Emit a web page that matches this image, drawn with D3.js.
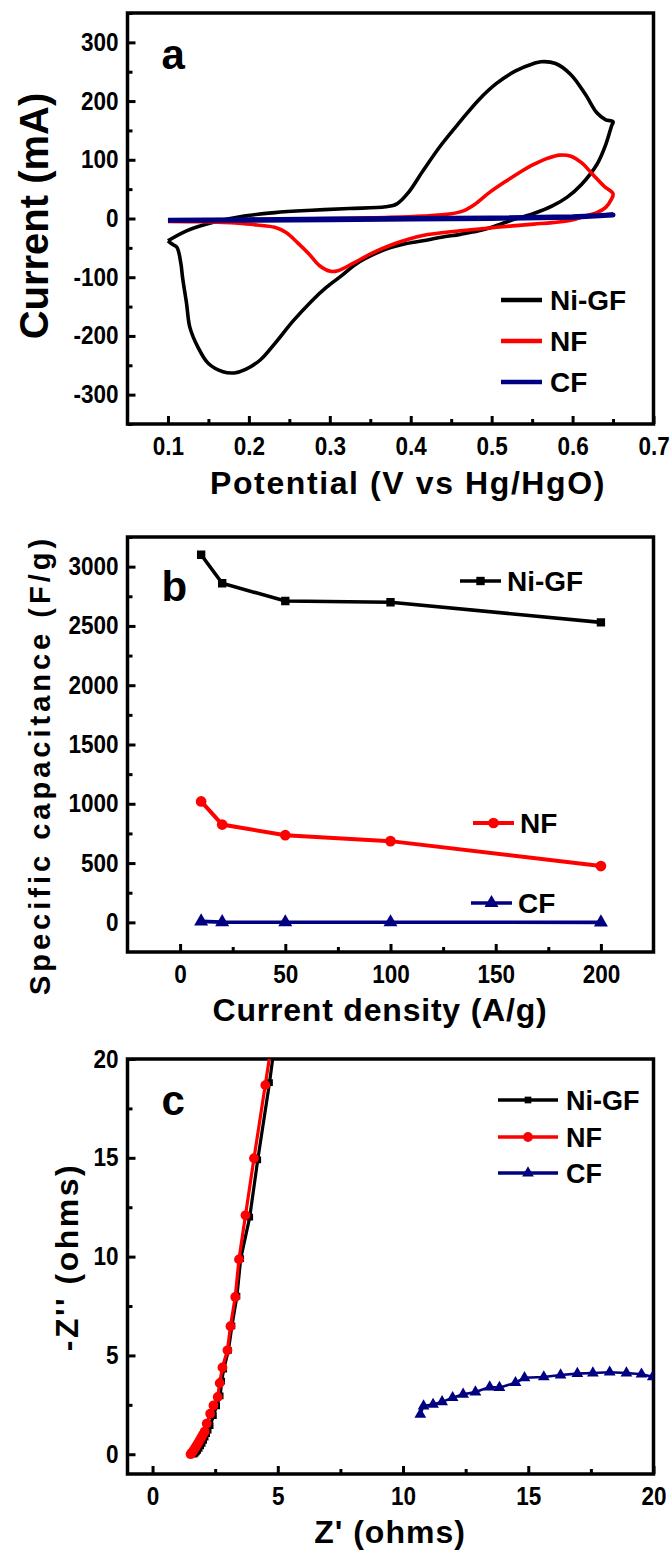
<!DOCTYPE html>
<html>
<head>
<meta charset="utf-8">
<script src="https://cdn.jsdelivr.net/npm/d3@7/dist/d3.min.js"></script>
<style>
  body { margin: 0; background: #fff; }
  text { font-family: "Liberation Sans", Arial, sans-serif; font-weight: bold; }
</style>
</head>
<body>
<svg id="fig" width="672" height="1555"></svg>
<script>
// ---- panel a : cyclic voltammetry, [potential V, current mA]
var cvNiGF = [[0.100,-38],[0.123,-21],[0.155,-7],[0.196,4.5],[0.232,10],[0.278,14],[0.324,17],[0.369,20],
  [0.383,25],[0.397,44],[0.415,81],[0.438,126],[0.461,165],[0.484,202],[0.506,230],[0.529,251],[0.552,264],
  [0.561,267],[0.579,264],[0.598,245],[0.616,211],[0.630,180],[0.641,168],[0.650,165],
  [0.648,157],[0.641,126],[0.630,92],[0.611,58],[0.593,36],[0.575,21.5],[0.552,8.5],[0.529,-1],[0.506,-12],
  [0.484,-21],[0.461,-27],[0.438,-32],[0.415,-38],[0.392,-43.5],[0.374,-50],[0.356,-60],[0.333,-77],
  [0.315,-97],[0.296,-117],[0.278,-140],[0.255,-174],[0.232,-213],[0.214,-241],[0.196,-257],[0.182,-263],
  [0.168,-261],[0.150,-247],[0.137,-219],[0.127,-185],[0.123,-145],[0.118,-100],[0.116,-77],[0.111,-49],
  [0.105,-43.5],[0.100,-38]];
var cvNF = [[0.100,-4],[0.187,-2.3],[0.278,-0.6],[0.369,1.7],[0.415,4],[0.450,8],[0.465,13],[0.479,24],
  [0.497,44],[0.516,62],[0.534,78],[0.552,92],[0.570,103],[0.584,108],[0.598,106],[0.611,95],[0.625,75],
  [0.639,55],[0.650,42],[0.648,33],[0.641,19],[0.630,10],[0.616,4.5],[0.598,-3],[0.575,-7],[0.552,-9.6],
  [0.506,-15],[0.461,-21],[0.415,-29],[0.379,-43.5],[0.351,-60],[0.328,-77],[0.310,-89],[0.301,-90],
  [0.287,-80],[0.274,-60],[0.260,-41],[0.246,-24],[0.232,-15],[0.210,-11],[0.187,-8],[0.141,-5.6],[0.100,-5]];
var cvCF = [[0.1,-3],[0.2,-2],[0.3,-1],[0.4,0],[0.5,1],[0.6,3],[0.65,6],[0.6,2],[0.5,0],[0.4,-1],
  [0.3,-2],[0.2,-3],[0.1,-3]];
var potentialTicks = [0.1,0.2,0.3,0.4,0.5,0.6,0.7];
var currentTicks = [-300,-200,-100,0,100,200,300];

// ---- panel b : rate capability
var currentDensity = [10, 20, 50, 100, 200];
var capNiGF = [3100, 2860, 2710, 2700, 2530];
var capNF = [1020, 825, 735, 685, 475];
var capCF = [8, 2, 1, 1, 0];
var densityTicks = [0,50,100,150,200];
var capTicks = [0,500,1000,1500,2000,2500,3000];

// ---- panel c : Nyquist plot, [Z', -Z'']
var eisNiGF = [[1.66,0.00],[1.70,0.05],[1.75,0.12],[1.80,0.20],[1.86,0.30],[1.92,0.42],[1.98,0.55],
  [2.04,0.70],[2.10,0.86],[2.16,1.04],[2.22,1.22],[2.30,1.45],[2.43,1.95],[2.56,2.45],[2.70,2.95],
  [2.76,3.7],[2.84,4.3],[3.03,5.26],[3.17,6.5],[3.37,8.0],[3.52,9.9],[3.88,12.0],[4.20,14.9],[4.67,18.8],[4.90,21]];
var eisNF = [[1.52,0.00],[1.56,0.06],[1.61,0.14],[1.66,0.24],[1.71,0.34],[1.76,0.45],[1.82,0.57],
  [1.88,0.70],[1.94,0.84],[2.01,0.99],[2.08,1.15],[2.16,1.55],[2.30,2.05],[2.43,2.47],[2.60,2.9],
  [2.68,3.6],[2.79,4.39],[2.99,5.26],[3.11,6.48],[3.30,7.96],[3.45,9.86],[3.71,12.09],[4.05,14.98],
  [4.50,18.68],[4.78,21]];
var eisCF = [[10.69,2.02],[10.82,2.44],[11.20,2.52],[11.56,2.65],[11.98,2.86],[12.40,3.03],[12.89,3.15],
  [13.46,3.40],[13.85,3.37],[14.49,3.62],[14.85,3.87],[15.62,3.91],[16.29,4.01],[16.96,4.08],[17.58,4.11],
  [18.25,4.15],[18.92,4.11],[19.52,4.05],[19.97,3.92]];
var zTicks = [0,5,10,15,20];

var svg = d3.select("#fig");
var L = 127.5, R = 653.5;
var BLUE = "#000080";

function panel(o) {
  var x = d3.scaleLinear().domain(o.xDomain).range([L, R]);
  var y = d3.scaleLinear().domain(o.yDomain).range([o.bottom, o.top]);
  svg.append("clipPath").attr("id", "clip" + o.name)
    .append("rect").attr("x", L).attr("y", o.top).attr("width", R - L).attr("height", o.bottom - o.top);

  [
    d3.axisBottom(x).tickValues(o.xMinor).tickSize(-5).tickFormat(""),
    d3.axisBottom(x).tickValues(o.xTicks).tickSize(-8).tickPadding(13).tickFormat(function(d){ return String(d); })
  ].forEach(function(a) {
    svg.append("g").attr("transform", "translate(0," + o.bottom + ")").call(a).call(style);
  });
  [
    d3.axisLeft(y).tickValues(o.yMinor).tickSize(-5).tickFormat(""),
    d3.axisLeft(y).tickValues(o.yTicks).tickSize(-8).tickPadding(10).tickFormat(function(d){ return String(d); })
  ].forEach(function(a) {
    svg.append("g").attr("transform", "translate(" + L + ",0)").call(a).call(style);
  });

  svg.append("rect").attr("x", L).attr("y", o.top).attr("width", R - L).attr("height", o.bottom - o.top)
    .attr("fill", "none").attr("stroke", "#000").attr("stroke-width", 3.5);

  svg.append("text").attr("x", L + 34).attr("y", o.top + o.letterDy)
    .style("font-size", "42px").text(o.letter);

  return { x: x, y: y, g: svg.append("g").attr("clip-path", "url(#clip" + o.name + ")") };
}

function style(sel) {
  sel.attr("font-family", null).attr("font-size", null);
  sel.select(".domain").remove();
  sel.selectAll(".tick line").attr("stroke", "#000").attr("stroke-width", 3);
  sel.selectAll(".tick text").attr("fill", "#000").style("font-size", "25px")
    .attr("transform", "scale(0.9,1)");
}

function title(x, y, txt, size, spacing, rotate) {
  svg.append("text")
    .attr("transform", "translate(" + x + "," + y + ")" + (rotate ? " rotate(-90)" : ""))
    .attr("text-anchor", "middle")
    .style("font-size", size + "px")
    .style("letter-spacing", spacing + "px")
    .text(txt);
}

function marker(g, pts, type, size, color) {
  g.selectAll(null).data(pts).enter().append("path")
    .attr("d", d3.symbol().type(type).size(size))
    .attr("transform", function(d){ return "translate(" + d[0] + "," + d[1] + ")"; })
    .attr("fill", color);
}

// ================= panel a =================
var pa = panel({ name: "a", letter: "a", letterDy: 56, top: 13, bottom: 424,
  xDomain: [0.05, 0.7], yDomain: [-350, 350],
  xTicks: potentialTicks, xMinor: [0.15,0.25,0.35,0.45,0.55,0.65],
  yTicks: currentTicks, yMinor: [-350,-250,-150,-50,50,150,250,350] });

var cvLine = d3.line().x(function(d){ return pa.x(d[0]); }).y(function(d){ return pa.y(d[1]); })
  .curve(d3.curveCatmullRom.alpha(0.5));
[[cvNiGF, "#000", 3.6], [cvNF, "#ff0000", 3.6]].forEach(function(s) {
  pa.g.append("path").attr("d", cvLine(s[0])).attr("fill", "none").attr("stroke", s[1])
    .attr("stroke-width", s[2]).attr("stroke-linejoin", "round");
});
pa.g.append("path").attr("d", cvLine.curve(d3.curveLinear)(cvCF)).attr("fill", "none")
  .attr("stroke", BLUE).attr("stroke-width", 5).attr("stroke-linejoin", "round");

[["Ni-GF", "#000", 300], ["NF", "#ff0000", 341], ["CF", BLUE, 382]].forEach(function(s) {
  svg.append("line").attr("x1", 501).attr("x2", 542).attr("y1", s[2]).attr("y2", s[2])
    .attr("stroke", s[1]).attr("stroke-width", 4.5);
  svg.append("text").attr("x", 550).attr("y", s[2] + 10).style("font-size", "28px").text(s[0]);
});

title(48, 216, "Current  (mA)", 40, 0, true);
title(408, 494, "Potential (V vs Hg/HgO)", 32, 1.6, false);

// ================= panel b =================
var pb = panel({ name: "b", letter: "b", letterDy: 64, top: 537, bottom: 952,
  xDomain: [-25, 225], yDomain: [-250, 3250],
  xTicks: densityTicks, xMinor: [25,75,125,175],
  yTicks: capTicks, yMinor: [250,750,1250,1750,2250,2750,3250] });

var seriesB = [
  [capNiGF, "#000", 3.6, d3.symbolSquare, 70, 581, 460, "Ni-GF"],
  [capNF, "#ff0000", 4, d3.symbolCircle, 90, 823, 473, "NF"],
  [capCF, BLUE, 3.6, d3.symbolTriangle, 85, 903, 471, "CF"]
];
seriesB.forEach(function(s) {
  var pts = currentDensity.map(function(c, i){ return [pb.x(c), pb.y(s[0][i])]; });
  pb.g.append("path").attr("d", d3.line()(pts)).attr("fill", "none")
    .attr("stroke", s[1]).attr("stroke-width", s[2]);
  marker(pb.g, pts, s[3], s[4], s[1]);
  svg.append("line").attr("x1", s[6]).attr("x2", s[6] + 41).attr("y1", s[5]).attr("y2", s[5])
    .attr("stroke", s[1]).attr("stroke-width", s[2]);
  marker(svg, [[s[6] + 20.5, s[5]]], s[3], s[4], s[1]);
  svg.append("text").attr("x", s[6] + 47).attr("y", s[5] + 10).style("font-size", "28px").text(s[7]);
});

title(50, 765, "Specific capacitance (F/g)", 29, 4, true);
title(380, 1021, "Current density (A/g)", 32, 0.8, false);

// ================= panel c =================
var pc = panel({ name: "c", letter: "c", letterDy: 56, top: 1059, bottom: 1474,
  xDomain: [-1, 20], yDomain: [-1, 20],
  xTicks: zTicks, xMinor: [2.5,7.5,12.5,17.5],
  yTicks: zTicks, yMinor: [2.5,7.5,12.5,17.5] });

var seriesC = [
  [eisNiGF, "#000", 3.2, d3.symbolSquare, 45, 1100, "Ni-GF"],
  [eisNF, "#ff0000", 3.2, d3.symbolCircle, 75, 1137, "NF"],
  [eisCF, BLUE, 2.6, d3.symbolTriangle, 60, 1173, "CF"]
];
seriesC.forEach(function(s) {
  var pts = s[0].map(function(d){ return [pc.x(d[0]), pc.y(d[1])]; });
  pc.g.append("path").attr("d", d3.line()(pts)).attr("fill", "none")
    .attr("stroke", s[1]).attr("stroke-width", s[2]);
  marker(pc.g, pts, s[3], s[4], s[1]);
  svg.append("line").attr("x1", 498).attr("x2", 558).attr("y1", s[5]).attr("y2", s[5])
    .attr("stroke", s[1]).attr("stroke-width", 3.5);
  marker(svg, [[528, s[5]]], s[3], s[4], s[1]);
  svg.append("text").attr("x", 566).attr("y", s[5] + 10).style("font-size", "27px").text(s[6]);
});

title(78, 1257, "-Z''  (ohms)", 32, 2.5, true);
title(390, 1543, "Z' (ohms)", 32, 1, false);
</script>
</body>
</html>
